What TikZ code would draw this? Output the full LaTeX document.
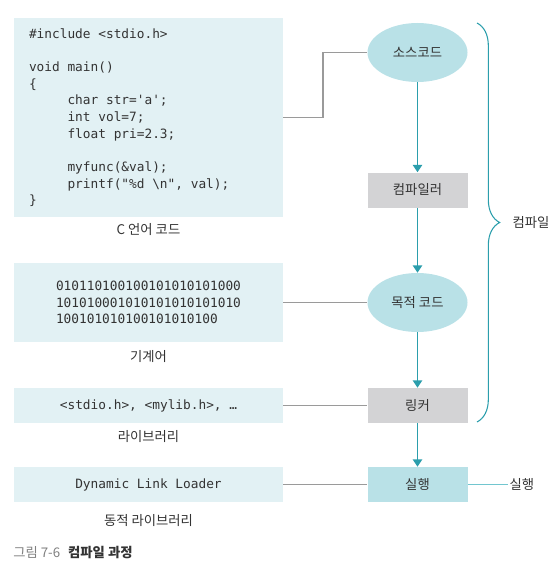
\documentclass[tikz,border=0pt]{standalone}
\usepackage{fontspec}
\setmainfont{Noto Sans CJK KR}
\newfontfamily\codefont{DejaVu Sans Mono}
\usetikzlibrary{shapes.geometric}
\usetikzlibrary{arrows.meta}
\usetikzlibrary{decorations.pathreplacing}
\definecolor{codebg}{HTML}{E2F1F4}
\definecolor{ovalbg}{HTML}{B9E1E7}
\definecolor{stepgray}{HTML}{D3D3D5}
\definecolor{flowteal}{HTML}{2B9EAC}
\definecolor{outteal}{HTML}{72C6CF}
\definecolor{wiregray}{HTML}{9A9A9A}
\definecolor{textgray}{HTML}{333333}
\newcommand{\tabin}{\phantom{xxxxx}}
\newcommand{\blank}{\phantom{x}}
\tikzset{
    codearea/.style = {
        fill=codebg,
        inner ysep=0pt,
        minimum width=201.75pt,
        text=textgray,
        font={\codefont\fontsize{9.6pt}{12.5pt}\selectfont},
    },
    stagebox/.style = {
        rectangle,
        fill=stepgray,
        inner sep=0pt,
        minimum width=75pt,
        minimum height=26.25pt,
        text=textgray,
        font={\fontsize{10pt}{12pt}\selectfont},
    },
    stageoval/.style = {
        ellipse,
        fill=ovalbg,
        inner sep=0pt,
        minimum width=75pt,
        minimum height=44.25pt,
        text=textgray,
        font={\fontsize{10pt}{12pt}\selectfont},
    },
    wire/.style = {
        wiregray,
        line width=1pt,
    },
    flow/.style = {
        flowteal,
        line width=1pt,
        -{Triangle[width=7pt,length=5.5pt]},
    },
    note/.style = {
        inner sep=1pt,
        text=textgray,
        font={\fontsize{10pt}{12pt}\selectfont},
    }
}

\begin{document}
\begin{tikzpicture}[x=0.75pt,y=-0.75pt]
  \useasboundingbox (0,0) rectangle (558,567);

  % left column: what each stage works on
  \node[codearea, align=left, text width=179.25pt, inner xsep=11.25pt, minimum height=149.25pt] (code) at (148.5,117.5) {%
    \#include\blank<stdio.h>\\ \mbox{}\\
    void\blank main()\\
    \{\\
    \tabin char\blank str=\textquotesingle a\textquotesingle;\\
    \tabin int\blank vol=7;\\
    \tabin float\blank pri=2.3;\\ \mbox{}\\
    \tabin myfunc(\&val);\\
    \tabin printf("\%d\blank\textbackslash n",\blank val);\\
    \}};
  \node[codearea, align=left, text width=138.75pt, inner xsep=31.5pt, minimum height=59.25pt] (mcode) at (148.5,302.5) {%
    010110100100101010101000\\
    101010001010101010101010\\
    100101010100101010100\\[9pt]};
  \node[codearea, minimum height=26.25pt] (libs) at (148.5,405.5) {<stdio.h>,\blank<mylib.h>,\blank…};
  \node[codearea, minimum height=26.25pt] (dll) at (148.5,484.5) {Dynamic\blank Link\blank Loader};

  \node[note] (codenote) at (148.5,230) {C 언어 코드};
  \node[note] (mcodenote) at (148.5,357) {기계어};
  \node[note] (libsnote) at (148.5,437) {라이브러리};
  \node[note] (dllnote) at (148.5,521) {동적 라이브러리};

  % right column: the stages
  \node[stageoval] (src) at (417.5,52.5) {소스코드};
  \node[stagebox] (comp) at (417.5,190) {컴파일러};
  \node[stageoval] (obj) at (417.5,302.5) {목적 코드};
  \node[stagebox] (link) at (417.5,405.5) {링커};
  \node[stagebox, fill=ovalbg] (run) at (417.5,484.5) {실행};

  \coordinate (bend) at (323,52.5);
  \draw[wire] (code.east) -| (bend) -- (src.west);
  \draw[wire] (mcode.east) -- (obj.west);
  \draw[wire] (libs.east) -- (link.west);
  \draw[wire] (dll.east) -- (run.west);

  \draw[flow] (src) -- (comp);
  \draw[flow] (comp) -- (obj);
  \draw[flow] (obj) -- (link);
  \draw[flow] (link) -- (run);

  \node[note, anchor=west] (runnote) at (508,484.5) {실행};
  \draw[outteal, line width=1pt] (run.east) -- (runnote.west);

  % brace over the compile steps
  \coordinate (bracetop) at (477,23);
  \coordinate (bracebot) at (477,422);
  \draw[flowteal, line width=0.8pt, decorate, decoration={brace, amplitude=17pt}] (bracetop) -- (bracebot);
  \node[note, anchor=west] (bracenote) at (511,222.5) {컴파일};

  \node[anchor=west, inner sep=0pt, font={\fontsize{10pt}{12pt}\selectfont}] (caption) at (13,553) {\textcolor{gray}{그림 7-6}\hspace{0.6em}{\bfseries\textcolor{textgray}{컴파일 과정}}};

\end{tikzpicture}
\end{document}
